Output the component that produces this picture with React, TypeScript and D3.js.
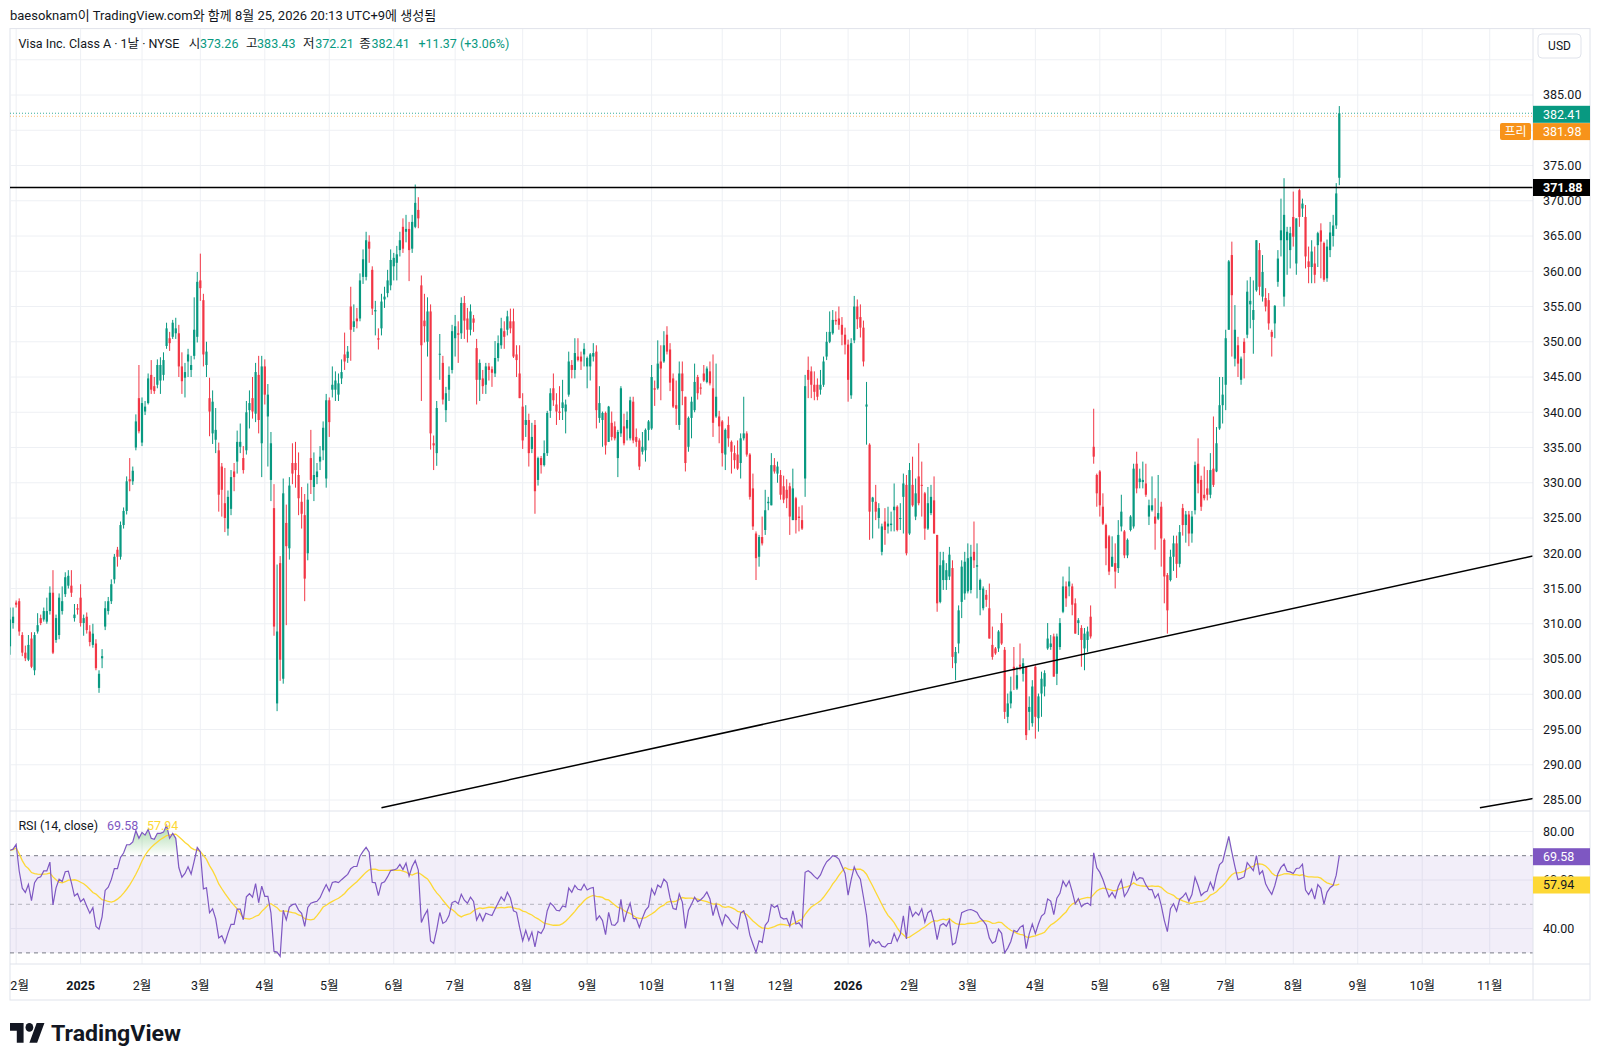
import React from 'react';
import * as d3 from 'd3';

// bar index 0 = first trading day of 2025; data starts 23 trading days earlier
const firstIndex = -23;

const opens = [
306.8,310.1,313.0,313.2,308.4,305.9,304.9,307.9,303.4,308.9,
310.8,310.6,310.3,311.8,314.4,307.7,308.4,311.8,314.2,315.4,
315.4,310.8,312.2,313.7,310.1,311.0,308.9,307.0,307.2,300.9,
305.1,309.6,311.8,313.2,316.3,320.5,319.5,324.0,326.0,330.5,
330.2,335.0,342.0,335.7,340.1,341.3,345.3,343.7,343.9,344.5,
345.3,349.4,350.5,350.7,351.2,351.2,346.5,344.9,347.2,346.0,
348.0,350.7,358.7,355.9,346.7,342.0,337.0,336.1,334.6,332.3,
327.1,323.5,326.3,331.6,333.0,335.1,333.5,334.6,340.3,342.0,
339.8,345.3,335.6,346.5,339.4,330.4,326.4,298.7,318.6,302.2,
324.3,320.7,332.8,332.8,331.1,327.3,325.4,320.0,333.5,329.4,
330.8,333.0,334.6,330.6,341.7,343.2,343.2,342.5,344.8,348.2,
347.7,355.0,352.1,353.3,353.3,359.2,359.2,364.2,360.2,354.3,
350.5,351.9,356.0,356.9,358.0,360.7,361.2,363.0,366.3,365.6,
366.0,363.2,366.3,368.7,358.0,353.0,350.0,354.3,335.6,334.2,
348.2,347.0,340.3,343.2,346.0,350.5,351.2,351.2,355.5,353.3,
351.7,353.3,349.1,344.6,344.8,343.9,346.5,346.1,345.5,347.7,
349.5,351.5,351.7,352.9,352.9,348.2,345.5,340.8,338.2,338.9,
334.8,338.2,330.4,333.5,332.5,334.2,340.2,343.4,341.1,340.1,
340.6,340.1,342.5,346.7,346.0,347.9,347.9,348.2,346.5,346.5,
347.9,348.6,339.2,338.9,339.9,335.8,338.5,338.0,333.5,337.0,
338.0,337.7,336.3,341.5,336.5,336.0,334.4,334.6,337.5,337.7,
343.4,343.4,347.2,347.2,351.0,348.9,344.8,341.0,338.2,345.5,
342.2,335.1,339.2,340.3,345.0,343.5,345.5,344.3,345.8,343.4,
339.4,339.4,338.7,334.0,338.2,335.8,334.2,334.0,332.8,336.3,
337.0,334.0,329.2,322.8,319.5,322.3,323.3,327.1,326.8,332.5,
331.3,331.1,329.5,329.0,329.5,324.7,327.8,325.2,324.7,330.6,
346.0,345.8,343.9,343.9,343.2,343.9,347.9,350.0,351.2,353.1,
353.3,352.4,351.0,349.6,342.4,350.2,355.0,353.5,352.0,340.8,
335.4,327.3,327.3,325.0,320.2,324.5,323.8,324.0,326.1,326.6,
324.9,328.0,329.7,322.8,329.7,325.2,330.9,329.7,328.5,323.5,
325.7,327.5,322.6,313.1,316.2,316.2,316.7,317.9,304.4,307.2,
313.1,314.3,314.6,314.8,320.2,318.1,314.8,312.2,314.1,312.2,
307.0,306.5,306.5,310.1,306.3,296.8,298.7,303.9,300.8,304.2,
302.9,303.9,297.5,295.9,303.9,296.6,300.1,301.1,306.5,306.7,
308.2,302.9,306.7,311.7,315.3,315.3,315.3,312.9,310.1,309.4,
306.5,307.7,311.0,335.1,331.1,331.6,326.6,324.0,322.4,318.1,
318.6,317.9,323.8,323.1,319.7,323.3,323.8,332.7,330.1,330.1,
329.9,325.2,326.1,325.2,324.9,326.6,321.9,316.9,316.2,319.5,
321.4,318.5,326.4,324.0,325.5,322.8,326.1,332.7,330.4,328.3,
329.2,328.3,332.0,331.6,337.7,341.0,343.9,351.7,362.3,347.6,
349.5,344.6,350.0,351.0,355.3,353.1,357.3,363.0,356.4,356.2,
355.9,351.4,352.6,358.5,364.4,356.4,364.4,363.0,367.7,361.1,
371.5,368.9,367.7,361.4,360.6,361.1,363.7,365.8,364.0,359.0,
363.0,365.0,366.5,373.26];

const highs = [
312.3,312.3,313.3,313.6,308.8,306.9,308.4,308.8,308.8,311.5,
311.3,312.3,313.7,315.3,317.6,311.3,314.3,315.3,317.3,317.6,
317.6,312.8,312.8,315.6,311.3,311.6,309.8,310.0,307.8,303.4,
306.4,313.2,313.8,316.3,319.9,320.9,324.5,326.5,330.9,333.5,
332.3,339.7,346.7,342.1,341.6,345.5,347.4,345.0,347.5,347.8,
348.5,352.7,351.4,353.1,353.4,352.4,348.5,347.0,349.0,348.0,
356.3,359.9,362.5,356.8,350.0,344.9,343.1,340.6,335.7,332.8,
332.1,328.9,331.8,332.8,337.4,338.4,335.2,341.6,343.1,345.0,
347.0,348.0,348.0,347.5,344.0,337.2,329.8,318.4,319.6,330.6,
326.9,330.8,335.6,335.8,334.3,329.4,328.4,329.9,337.5,334.3,
332.8,335.2,338.7,342.6,342.1,346.5,345.8,345.5,347.5,351.3,
349.4,357.8,355.3,354.8,359.7,363.1,365.6,365.1,360.7,355.8,
351.9,356.8,357.8,360.2,363.1,362.6,363.6,365.6,367.5,368.0,
367.0,368.0,372.3,370.5,359.4,356.8,356.3,355.3,336.7,341.6,
351.1,348.0,343.6,346.5,352.4,353.8,352.9,356.3,356.5,354.8,
355.3,353.8,350.4,347.5,346.0,347.0,347.0,346.5,350.1,350.9,
353.4,352.9,354.4,354.7,354.7,349.5,349.5,342.7,341.0,339.8,
338.5,338.9,333.7,333.8,336.0,340.2,343.4,345.5,342.7,343.7,
344.6,341.8,348.6,347.4,350.5,350.5,348.6,349.8,347.9,348.4,
349.8,349.5,343.7,340.1,340.1,340.9,340.1,338.7,337.5,343.7,
339.8,340.1,342.2,342.2,337.7,336.3,337.2,337.7,338.9,346.7,
344.5,350.2,349.5,351.5,352.2,349.8,345.5,344.5,347.2,347.2,
342.2,339.4,342.2,346.9,345.3,344.1,346.7,346.5,347.2,348.2,
346.9,340.2,338.9,337.7,339.4,336.0,335.3,336.0,337.0,342.2,
337.3,334.2,331.3,323.1,322.6,325.2,329.0,328.0,334.2,333.5,
333.0,331.8,331.0,330.5,330.0,332.0,328.0,326.6,326.8,345.3,
347.9,346.5,345.8,344.8,346.0,347.9,351.4,354.3,354.5,354.3,
355.0,353.5,352.0,350.3,350.5,356.5,356.0,355.3,353.0,344.3,
335.6,328.0,329.7,327.1,324.2,326.4,326.6,325.9,329.9,326.8,
327.1,331.3,331.1,332.8,333.7,330.6,335.6,333.0,328.7,329.4,
329.7,330.9,322.6,320.2,320.2,318.6,320.9,319.0,306.7,312.6,
319.0,320.2,321.4,321.2,324.5,321.4,316.4,315.3,314.8,315.7,
309.6,306.7,309.1,311.5,306.7,300.1,302.5,306.7,303.9,307.2,
305.1,304.0,299.7,302.0,304.1,300.1,303.2,303.4,310.1,308.4,
308.6,308.6,310.8,316.7,316.0,318.1,315.7,313.6,310.8,309.8,
309.4,309.6,312.6,340.5,331.3,331.8,328.5,324.2,322.6,322.4,
321.4,324.7,328.3,323.3,322.1,325.4,332.7,334.4,332.0,333.0,
332.7,327.6,330.9,327.8,331.1,327.3,322.1,317.2,320.5,322.5,
322.5,324.0,327.0,326.0,326.0,326.0,333.0,336.3,331.0,332.3,
331.8,334.2,339.4,337.9,345.0,345.0,351.7,361.6,364.2,355.2,
350.7,347.9,350.5,358.7,359.2,358.7,364.4,364.0,362.3,357.6,
356.9,351.7,355.2,363.0,370.3,373.2,366.3,366.3,371.3,367.5,
371.7,370.3,369.4,363.5,364.4,363.5,365.6,366.8,364.2,364.5,
367.0,368.0,372.5,383.43];

const lows = [
305.6,309.3,312.3,308.3,305.4,304.7,304.7,303.7,302.7,308.6,
309.8,310.3,310.0,311.3,305.7,307.3,307.8,311.3,313.8,315.0,
313.8,310.3,311.3,309.6,308.3,308.6,306.8,306.6,303.4,300.2,
303.7,309.1,311.3,312.8,315.7,318.1,319.1,323.5,325.5,328.8,
329.7,334.6,337.0,335.2,339.6,341.1,342.6,342.6,343.4,342.6,
344.5,349.0,348.7,350.4,350.4,345.0,342.6,342.1,345.0,345.0,
347.5,349.9,355.8,346.5,345.0,336.6,335.5,334.2,325.9,325.2,
323.0,322.5,325.4,328.8,331.3,334.2,331.3,334.0,337.7,339.1,
338.6,337.0,330.8,341.1,332.3,327.4,308.3,297.6,301.9,301.5,
309.8,319.1,329.8,329.3,325.4,323.5,313.2,319.0,328.4,327.4,
329.8,331.8,333.2,329.3,336.5,342.1,341.6,341.6,344.0,346.0,
347.0,347.3,351.4,351.9,352.9,358.2,358.7,361.2,353.8,350.9,
348.9,350.9,354.8,356.3,357.3,358.7,358.7,362.1,362.6,364.1,
358.6,362.6,366.1,366.1,341.6,349.9,347.9,334.7,331.8,332.4,
344.6,341.1,338.6,341.6,345.5,347.9,347.0,350.4,350.4,349.9,
350.9,351.4,341.1,341.6,342.6,342.6,344.5,343.6,345.0,347.2,
349.0,349.0,350.9,351.2,347.7,345.0,342.0,334.8,336.5,332.3,
334.2,325.6,329.6,331.3,332.3,333.8,339.2,340.9,338.2,338.9,
338.9,337.0,342.2,344.8,344.8,347.2,346.0,346.5,343.4,344.5,
347.2,337.7,338.5,335.1,334.0,335.8,336.0,336.0,330.8,336.5,
335.3,336.0,336.0,335.6,335.1,331.8,334.0,333.0,336.0,337.5,
340.9,343.2,341.7,347.0,348.2,343.0,340.6,338.2,337.5,341.0,
331.6,334.4,336.3,340.0,341.8,342.5,344.3,344.1,343.8,336.5,
339.2,335.6,332.3,331.8,335.1,331.3,332.0,331.8,330.6,336.0,
333.7,327.6,323.3,316.2,318.1,321.1,322.6,326.1,326.8,331.3,
330.0,327.6,327.1,326.4,322.6,324.7,322.8,323.1,323.3,328.0,
342.0,342.0,341.7,341.7,342.5,343.6,347.4,349.8,351.0,352.4,
351.7,349.5,348.2,341.5,341.9,349.8,351.8,350.6,346.5,335.4,
321.9,322.1,324.7,323.5,319.7,321.2,322.8,323.1,323.1,323.1,
323.3,322.8,319.7,322.6,326.6,324.7,326.8,325.2,321.9,323.3,
325.4,322.8,311.7,312.9,314.8,314.8,316.2,303.7,302.0,305.8,
310.8,313.4,314.3,314.3,317.9,313.6,311.2,311.9,312.4,307.9,
304.9,305.6,306.0,307.0,296.5,295.9,298.0,300.6,300.6,303.4,
301.8,293.5,294.9,295.4,293.7,294.7,296.8,299.7,306.3,306.3,
302.5,301.3,306.3,311.5,312.4,313.9,311.2,308.6,308.4,303.9,
303.4,306.0,307.9,332.7,326.6,325.2,324.0,318.3,316.9,318.1,
315.0,317.2,323.1,319.3,319.3,323.1,323.5,328.5,329.2,329.2,
328.0,324.0,325.9,320.5,324.7,318.1,312.9,308.6,316.0,317.5,
316.5,318.0,322.5,321.5,321.0,321.5,325.5,328.5,326.0,327.5,
327.5,327.8,329.4,331.5,337.5,338.4,340.3,351.7,347.9,346.5,
345.0,343.9,344.8,350.5,351.9,348.3,357.1,356.6,355.7,354.3,
351.7,347.9,350.5,357.8,362.1,355.0,359.5,360.4,363.5,359.5,
366.3,367.7,360.4,358.3,358.3,358.3,360.6,359.0,358.5,358.5,
362.0,363.5,366.0,372.21];

const closes = [
310.6,311.0,312.7,308.9,305.9,305.1,307.0,303.9,308.4,309.8,
310.1,311.8,311.8,314.4,305.9,310.8,313.7,313.2,316.6,316.8,
314.4,311.3,312.0,310.1,310.8,309.1,307.4,308.6,303.7,302.9,
305.4,312.2,313.2,315.6,319.5,319.5,324.0,326.0,330.2,330.2,
331.7,338.7,337.3,341.3,340.8,344.8,343.2,343.0,346.7,346.7,
347.4,351.9,349.8,352.7,351.9,346.5,344.4,345.7,348.2,346.7,
351.7,358.5,357.6,348.2,348.6,340.1,341.5,337.5,328.3,329.0,
325.0,328.0,330.8,330.8,335.8,335.8,331.8,340.0,341.3,340.1,
345.7,338.9,346.5,342.5,342.5,335.6,309.6,308.9,304.9,328.5,
321.0,329.6,331.3,331.8,327.8,325.6,316.4,327.6,330.4,331.1,
331.6,333.7,337.8,341.7,338.6,343.9,344.5,344.1,345.7,347.2,
348.6,351.7,352.9,352.9,358.7,361.7,364.4,363.2,354.7,354.5,
350.3,355.7,356.4,358.7,361.6,361.9,362.4,364.4,363.2,366.0,
363.0,367.0,369.7,367.5,349.5,352.2,354.3,337.0,335.3,340.6,
348.3,341.8,342.7,345.3,351.5,352.2,351.0,355.5,353.0,351.7,
354.3,352.7,344.6,347.0,343.7,346.5,346.0,345.6,347.7,349.8,
351.9,350.7,353.6,351.9,347.9,347.4,342.0,336.0,338.9,334.2,
336.5,328.8,333.5,332.5,334.2,339.9,342.7,341.7,340.1,339.9,
341.4,341.1,347.2,346.0,348.4,347.4,347.2,349.0,347.7,348.2,
348.4,340.3,341.3,339.9,335.3,340.8,336.5,336.3,337.2,343.4,
335.6,338.9,341.7,336.0,335.8,332.3,335.1,337.5,338.7,345.0,
343.2,346.9,346.2,349.5,348.6,344.2,340.8,340.5,345.5,343.0,
332.8,339.2,341.5,344.3,342.7,343.4,344.5,346.2,344.1,338.5,
342.2,338.0,334.2,337.5,336.3,334.4,333.2,332.0,336.3,337.0,
334.0,328.0,323.8,319.3,322.3,321.4,326.1,327.3,332.5,331.6,
332.3,328.3,327.6,327.8,325.2,329.2,324.7,325.0,323.5,343.7,
344.6,343.9,342.9,342.2,343.9,347.2,350.0,351.4,353.1,352.9,
352.4,351.0,349.6,344.6,349.8,355.0,353.2,352.0,347.2,341.1,
325.9,327.9,325.9,326.4,323.8,323.3,324.2,324.2,326.6,323.3,
325.0,329.9,320.0,331.8,326.8,328.5,327.1,329.6,323.5,327.1,
328.0,322.8,312.9,318.3,319.0,317.6,319.8,305.3,306.0,311.9,
318.1,318.8,319.3,319.5,319.0,318.3,316.2,315.0,313.4,307.9,
305.3,305.8,308.9,307.2,297.5,298.7,300.4,303.4,302.7,303.9,
304.4,294.2,298.2,301.1,296.8,299.7,302.2,303.0,307.9,307.2,
302.5,308.2,310.1,315.3,313.6,316.0,312.7,308.6,310.5,307.7,
308.6,308.9,308.2,333.7,328.5,326.8,324.2,320.7,317.4,319.5,
317.4,322.6,325.9,319.7,321.9,325.2,332.0,329.2,330.6,330.4,
328.3,326.8,326.8,324.2,325.7,322.1,316.7,311.9,319.5,321.4,
318.5,323.0,324.0,325.5,322.8,325.2,332.5,329.9,326.6,327.8,
328.3,331.8,329.7,335.6,341.0,342.5,350.5,361.4,356.6,351.7,
346.9,347.6,348.4,357.1,355.8,354.5,364.4,357.8,359.9,355.0,
352.6,350.7,355.1,361.8,365.8,368.0,365.6,365.4,364.9,367.5,
367.7,369.6,362.1,360.6,362.8,359.5,365.4,364.2,358.8,363.5,
365.5,366.5,371.04,382.41];

// time axis: first-trading-day index of each month and its label
const tickIndex = [-21, 0, 20, 39, 60, 81, 102, 122, 144, 165, 186, 209, 228, 250, 270, 289, 311, 332, 352, 373, 395, 416, 437, 459];
const tickLabels = ['12월', '2025', '2월', '3월', '4월', '5월', '6월', '7월', '8월', '9월', '10월', '11월', '12월', '2026', '2월', '3월', '4월', '5월', '6월', '7월', '8월', '9월', '10월', '11월'];
const yearLabels = ['2025', '2026'];

const priceGrid = [285, 290, 295, 300, 305, 310, 315, 320, 325, 330, 335, 340, 345, 350, 355, 360, 365, 370, 375, 380, 385, 390];
const priceLabels = [285, 290, 295, 300, 305, 310, 315, 320, 325, 330, 335, 340, 345, 350, 355, 360, 365, 370, 375, 380, 385];
const rsiGrid = [80, 60, 40];
const rsiBands = [70, 50, 30];

const lastPrice = 382.41;
const prePrice = 381.98;
const levelPrice = 371.88;
const rsiLast = 69.58;
const rsiMaLast = 57.94;
const rsiSeedGain = 1.3;
const rsiSeedLoss = 0.5;

// drawn trend lines: [bar index, price] anchors
const trendA = [[98, 283.9], [473, 319.6]];
const trendB = [[455.8, 283.9], [473.1, 285.2]];

const legendParts = [
  { t: 'Visa Inc. Class A · 1날 · NYSE', x: 18.4, c: '#131722' },
  { t: '시', x: 188.8, c: '#131722' },
  { t: '373.26', x: 200, c: '#089981' },
  { t: '고', x: 245.9, c: '#131722' },
  { t: '383.43', x: 257.1, c: '#089981' },
  { t: '저', x: 303.1, c: '#131722' },
  { t: '372.21', x: 315.3, c: '#089981' },
  { t: '종', x: 359.2, c: '#131722' },
  { t: '382.41', x: 371.4, c: '#089981' },
  { t: '+11.37 (+3.06%)', x: 418.4, c: '#089981' },
];

const FONT = 'Roboto, "Noto Sans CJK KR", "Noto Sans", sans-serif';
const UP = '#089981';
const DOWN = '#f23645';
const GRID = '#eef0f4';
const BORDER = '#e0e3eb';
const TEXT = '#131722';

const L = 10, R = 1590, TOP = 28.6, BOTTOM = 1000;
const AXIS_X = 1533;
const PRICE_T = 29, PRICE_B = 811, RSI_T = 811, RSI_B = 964;

function computeRsi(cl: number[]): number[] {
  let g = rsiSeedGain;
  let l = rsiSeedLoss;
  const out: number[] = [];
  cl.forEach((c, k) => {
    if (k > 0) {
      const ch = c - cl[k - 1];
      g = (g * 13 + Math.max(ch, 0)) / 14;
      l = (l * 13 + Math.max(-ch, 0)) / 14;
    }
    out.push(l === 0 ? 100 : 100 - 100 / (1 + g / l));
  });
  return out;
}

function sma(v: number[], n: number): number[] {
  return v.map((_, k) => {
    const s = v.slice(Math.max(0, k - n + 1), k + 1);
    return d3.mean(s) as number;
  });
}

export default function App() {
  const x = d3.scaleLinear().domain([0, 410]).range([80.6, 1339.3]);
  const y = d3.scaleLinear().domain([285, 385]).range([800, 95]);
  const yr = d3.scaleLinear().domain([30, 70]).range([952.9, 855.7]);

  const bars = closes.map((c, k) => ({ i: k + firstIndex, o: opens[k], h: highs[k], l: lows[k], c }));
  const rsi = computeRsi(closes);
  const rsiMa = sma(rsi, 14);
  const rsiPts = rsi.map((v, k) => ({ i: k + firstIndex, v }));
  const maPts = rsiMa.map((v, k) => ({ i: k + firstIndex, v }));

  const rsiLine = d3.line<{ i: number; v: number }>().x(d => x(d.i)).y(d => yr(d.v));
  const obArea = d3.area<{ i: number; v: number }>().x(d => x(d.i)).y0(yr(70)).y1(d => yr(Math.max(d.v, 70)));
  const osArea = d3.area<{ i: number; v: number }>().x(d => x(d.i)).y0(yr(30)).y1(d => yr(Math.min(d.v, 30)));
  const trendLine = d3.line<number[]>().x(d => x(d[0])).y(d => y(d[1]));

  const bw = 2.2;

  const badge = (cy: number, label: string, fill: string, color = '#ffffff', bold = false) => (
    <g>
      <rect x={AXIS_X} y={cy - 8.5} width={R - AXIS_X} height={17} fill={fill} />
      <text x={1543} y={cy} dy="0.35em" fontSize={12.5} fill={color} fontWeight={bold ? 700 : 400}>{label}</text>
    </g>
  );

  return (
    <svg width={1600} height={1064} style={{ position: 'absolute', left: 0, top: 0, background: '#ffffff' }} fontFamily={FONT}>
      <defs>
        <clipPath id="pricePane"><rect x={L} y={PRICE_T} width={AXIS_X - L} height={PRICE_B - PRICE_T} /></clipPath>
        <clipPath id="rsiPane"><rect x={L} y={RSI_T} width={AXIS_X - L} height={RSI_B - RSI_T} /></clipPath>
        <clipPath id="timeAxis"><rect x={L} y={RSI_B} width={AXIS_X - L} height={BOTTOM - RSI_B} /></clipPath>
        <linearGradient id="obGrad" gradientUnits="userSpaceOnUse" x1="0" y1={yr(82)} x2="0" y2={yr(70)}>
          <stop offset="0" stopColor="#4caf50" stopOpacity={0.45} />
          <stop offset="1" stopColor="#4caf50" stopOpacity={0} />
        </linearGradient>
        <linearGradient id="osGrad" gradientUnits="userSpaceOnUse" x1="0" y1={yr(30)} x2="0" y2={yr(18)}>
          <stop offset="0" stopColor="#f23645" stopOpacity={0} />
          <stop offset="1" stopColor="#f23645" stopOpacity={0.45} />
        </linearGradient>
      </defs>
      <rect x={0} y={0} width={1600} height={1064} fill="#ffffff" />

      <text x={10} y={20} fontSize={13} fill={TEXT}>baesoknam이 TradingView.com와 함께 8월 25, 2026 20:13 UTC+9에 생성됨</text>

      <rect x={L} y={TOP} width={R - L} height={BOTTOM - TOP} fill="none" stroke={BORDER} />

      {/* price pane grid */}
      <g clipPath="url(#pricePane)">
        {priceGrid.map(p => <line key={'pg' + p} x1={L} x2={AXIS_X} y1={y(p)} y2={y(p)} stroke={GRID} />)}
        {tickIndex.map(t => <line key={'vg' + t} x1={x(t)} x2={x(t)} y1={PRICE_T} y2={PRICE_B} stroke={GRID} />)}
        <line x1={L} x2={AXIS_X} y1={y(lastPrice)} y2={y(lastPrice)} stroke={UP} strokeDasharray="1 2" strokeOpacity={0.8} />
        <line x1={L} x2={AXIS_X} y1={y(prePrice)} y2={y(prePrice)} stroke="#f7931a" strokeDasharray="1 2" strokeOpacity={0.6} />
        {bars.map(b => {
          const col = b.c >= b.o ? UP : DOWN;
          const top = y(Math.max(b.o, b.c));
          const bot = y(Math.min(b.o, b.c));
          return (
            <g key={'b' + b.i}>
              <line x1={x(b.i)} x2={x(b.i)} y1={y(Math.max(b.h, b.o, b.c))} y2={y(Math.min(b.l, b.o, b.c))} stroke={col} strokeWidth={1} />
              <rect x={x(b.i) - bw / 2} y={top} width={bw} height={Math.max(1, bot - top)} fill={col} />
            </g>
          );
        })}
        <line x1={L} x2={AXIS_X} y1={y(levelPrice)} y2={y(levelPrice)} stroke="#000000" strokeWidth={1.6} />
        <path d={trendLine(trendA) as string} stroke="#000000" strokeWidth={1.5} fill="none" />
        <path d={trendLine(trendB) as string} stroke="#000000" strokeWidth={1.5} fill="none" />
      </g>

      {/* legend */}
      {legendParts.map((p, k) => (
        <text key={'lg' + k} x={p.x} y={48.3} fontSize={12.5} fill={p.c}>{p.t}</text>
      ))}

      {/* USD button */}
      <rect x={1538} y={34} width={43} height={24} rx={4} fill="#ffffff" stroke={BORDER} />
      <text x={1559.5} y={46} dy="0.35em" textAnchor="middle" fontSize={12} fill={TEXT}>USD</text>

      {/* rsi pane */}
      <g clipPath="url(#rsiPane)">
        {tickIndex.map(t => <line key={'rv' + t} x1={x(t)} x2={x(t)} y1={RSI_T} y2={RSI_B} stroke={GRID} />)}
        {rsiGrid.map(v => <line key={'rg' + v} x1={L} x2={AXIS_X} y1={yr(v)} y2={yr(v)} stroke={GRID} />)}
        <rect x={L} y={yr(70)} width={AXIS_X - L} height={yr(30) - yr(70)} fill="#7e57c2" fillOpacity={0.1} />
        {rsiBands.map(v => (
          <line key={'rb' + v} x1={L} x2={AXIS_X} y1={yr(v)} y2={yr(v)} stroke="#787b86" strokeOpacity={v === 50 ? 0.5 : 1} strokeDasharray="4 4" />
        ))}
        <path d={obArea(rsiPts) as string} fill="url(#obGrad)" />
        <path d={osArea(rsiPts) as string} fill="url(#osGrad)" />
        <path d={rsiLine(maPts) as string} fill="none" stroke="#fdd835" strokeWidth={1.3} />
        <path d={rsiLine(rsiPts) as string} fill="none" stroke="#7e57c2" strokeWidth={1.2} />
      </g>
      <text x={18.4} y={830} fontSize={12.5} fill={TEXT}>RSI (14, close)</text>
      <text x={107} y={830} fontSize={12.5} fill="#7e57c2">69.58</text>
      <text x={147} y={830} fontSize={12.5} fill="#fdd835">57.94</text>

      {/* pane borders */}
      <line x1={L} x2={R} y1={PRICE_B} y2={PRICE_B} stroke={BORDER} />
      <line x1={L} x2={R} y1={RSI_B} y2={RSI_B} stroke={BORDER} />
      <line x1={AXIS_X} x2={AXIS_X} y1={TOP} y2={BOTTOM} stroke={BORDER} />

      {/* price axis */}
      {priceLabels.map(p => (
        <text key={'pl' + p} x={1543} y={y(p)} dy="0.35em" fontSize={12.5} fill={TEXT}>{p.toFixed(2)}</text>
      ))}
      {badge(114.3, lastPrice.toFixed(2), UP)}
      <rect x={1500} y={131.6 - 8.5} width={31} height={17} rx={2} fill="#f7931a" />
      <text x={1515.5} y={131.6} dy="0.35em" textAnchor="middle" fontSize={12} fill="#ffffff">프리</text>
      {badge(131.6, prePrice.toFixed(2), '#f7931a')}
      {badge(y(levelPrice), levelPrice.toFixed(2), '#000000', '#ffffff', true)}

      {/* rsi axis */}
      {rsiGrid.map(v => (
        <text key={'rl' + v} x={1543} y={yr(v)} dy="0.35em" fontSize={12.5} fill={TEXT}>{v.toFixed(2)}</text>
      ))}
      {badge(yr(rsiLast), rsiLast.toFixed(2), '#7e57c2')}
      {badge(yr(rsiMaLast), rsiMaLast.toFixed(2), '#fdd835', TEXT)}

      {/* time axis */}
      <g clipPath="url(#timeAxis)">
        {tickIndex.map((t, k) => (
          <text key={'tl' + t} x={x(t)} y={986} dy="0.35em" textAnchor="middle" fontSize={12.5} fill={TEXT}
            fontWeight={yearLabels.includes(tickLabels[k]) ? 700 : 400}>{tickLabels[k]}</text>
        ))}
      </g>

      {/* TradingView logo */}
      <g transform="translate(10,1018.6) scale(0.97,1.1)" fill={TEXT}>
        <path d="M14 22H7V11H0V4h14v18zM28 22h-8l7.5-18h8L28 22z" />
        <circle cx={20} cy={8} r={4} />
      </g>
      <text x={51} y={1041} fontSize={22} fontWeight={700} fill={TEXT} textLength={130} lengthAdjust="spacingAndGlyphs">TradingView</text>
    </svg>
  );
}
